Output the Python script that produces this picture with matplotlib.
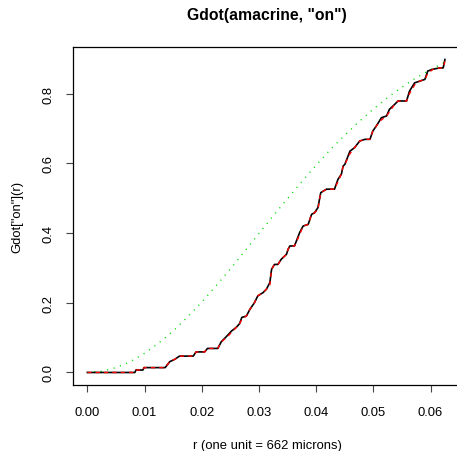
import matplotlib
matplotlib.use("Agg")
import matplotlib.pyplot as plt

plt.rcParams['font.family'] = ['Liberation Sans', 'DejaVu Sans']

# Kaplan-Meier estimate (black)
r_km = [0, 0.0083, 0.0085, 0.0097, 0.0099, 0.0136, 0.0144, 0.0153, 0.0161, 0.0185,
        0.0190, 0.0205, 0.0210, 0.0228, 0.0234, 0.0243, 0.0252, 0.0260, 0.0266, 0.0270,
        0.0278, 0.0284, 0.0292, 0.0298, 0.0307, 0.0313, 0.0319, 0.0322, 0.0327, 0.0333,
        0.0339, 0.0348, 0.0351, 0.0354, 0.0362, 0.0371, 0.0377, 0.0386, 0.0392, 0.0397,
        0.0403, 0.0408, 0.0418, 0.0432, 0.0438, 0.0444, 0.0447, 0.0450, 0.0459, 0.0467,
        0.0476, 0.0485, 0.0494, 0.0499, 0.0505, 0.0514, 0.0523, 0.0528, 0.0537, 0.0543,
        0.0558, 0.0563, 0.0572, 0.0581, 0.0590, 0.0595, 0.0604, 0.0616, 0.0622, 0.0625]
g_km = [0, 0, 0.007, 0.007, 0.014, 0.014, 0.031, 0.038, 0.047, 0.047,
        0.059, 0.059, 0.069, 0.069, 0.088, 0.103, 0.119, 0.129, 0.140, 0.158,
        0.162, 0.181, 0.200, 0.220, 0.229, 0.239, 0.258, 0.296, 0.310, 0.310,
        0.325, 0.339, 0.354, 0.363, 0.363, 0.401, 0.420, 0.425, 0.454, 0.458,
        0.473, 0.516, 0.526, 0.526, 0.554, 0.569, 0.592, 0.597, 0.635, 0.645,
        0.664, 0.669, 0.669, 0.693, 0.707, 0.731, 0.736, 0.755, 0.769, 0.779,
        0.779, 0.807, 0.831, 0.836, 0.841, 0.865, 0.870, 0.874, 0.874, 0.898]

# border-corrected estimate (red dashed)
r_rs = r_km
g_rs = [0, 0, 0.007, 0.007, 0.014, 0.014, 0.031, 0.038, 0.047, 0.047,
        0.059, 0.059, 0.069, 0.069, 0.088, 0.100, 0.115, 0.129, 0.140, 0.152,
        0.162, 0.181, 0.200, 0.220, 0.229, 0.239, 0.252, 0.296, 0.310, 0.310,
        0.325, 0.339, 0.354, 0.363, 0.363, 0.395, 0.420, 0.425, 0.454, 0.458,
        0.468, 0.516, 0.526, 0.526, 0.548, 0.569, 0.592, 0.597, 0.628, 0.645,
        0.664, 0.669, 0.669, 0.693, 0.707, 0.725, 0.736, 0.748, 0.769, 0.779,
        0.779, 0.800, 0.825, 0.836, 0.841, 0.858, 0.870, 0.874, 0.874, 0.893]

# theoretical Poisson curve (green dotted)
r_theo = [0, 0.0025, 0.005, 0.0075, 0.01, 0.0125, 0.015, 0.0175, 0.02, 0.0225,
          0.025, 0.0275, 0.03, 0.0325, 0.035, 0.0375, 0.04, 0.0425, 0.045, 0.0475,
          0.05, 0.0525, 0.055, 0.0575, 0.06, 0.0625]
g_theo = [0, 0.0035, 0.014, 0.031, 0.055, 0.085, 0.119, 0.159, 0.202, 0.249,
          0.297, 0.348, 0.399, 0.450, 0.499, 0.548, 0.595, 0.640, 0.681, 0.720,
          0.756, 0.789, 0.819, 0.846, 0.869, 0.890]

x_ticks = [0.00, 0.01, 0.02, 0.03, 0.04, 0.05, 0.06]
x_labels = ["0.00", "0.01", "0.02", "0.03", "0.04", "0.05", "0.06"]
y_ticks = [0.0, 0.2, 0.4, 0.6, 0.8]
y_labels = ["0.0", "0.2", "0.4", "0.6", "0.8"]

W, H = 457, 452
fig = plt.figure(figsize=(W / 100, H / 100), dpi=100)
left, right, bottom, top = 73, 461, 386, 48
ax = fig.add_axes([left / W, (H - bottom) / H, (right - left) / W, (bottom - top) / H])

ax.plot(r_theo, g_theo, color="#00DD00", lw=1.0, linestyle=(0, (0.8, 4.0)))
ax.plot(r_km, g_km, color="black", lw=1.2)
ax.plot(r_rs, g_rs, color="#FF0000", lw=1.0, linestyle=(0, (3, 3)))

xmax = 0.0628
ymax = 0.898
ax.set_xlim(-0.04 * xmax, 1.04 * xmax)
ax.set_ylim(-0.04 * ymax, 1.04 * ymax)

ax.set_xticks(x_ticks)
ax.set_xticklabels(x_labels)
ax.set_yticks(y_ticks)
ax.set_yticklabels(y_labels, rotation=90, va="center")
ax.tick_params(direction="out", length=5.2, width=0.8, labelsize=9.4, color="#444444")
ax.tick_params(axis="x", pad=10)
ax.tick_params(axis="y", pad=8)
for s in ax.spines.values():
    s.set_linewidth(0.9)
    s.set_color("black")
ax.spines["right"].set_visible(False)

ax.set_title('Gdot(amacrine, "on")', fontsize=11.3, fontweight="bold", pad=20)
ax.set_xlabel("r (one unit = 662 microns)", fontsize=9.4, labelpad=15)
ax.set_ylabel('Gdot["on"](r)', fontsize=9.4, labelpad=14)

fig.savefig("out.png", dpi=100)
